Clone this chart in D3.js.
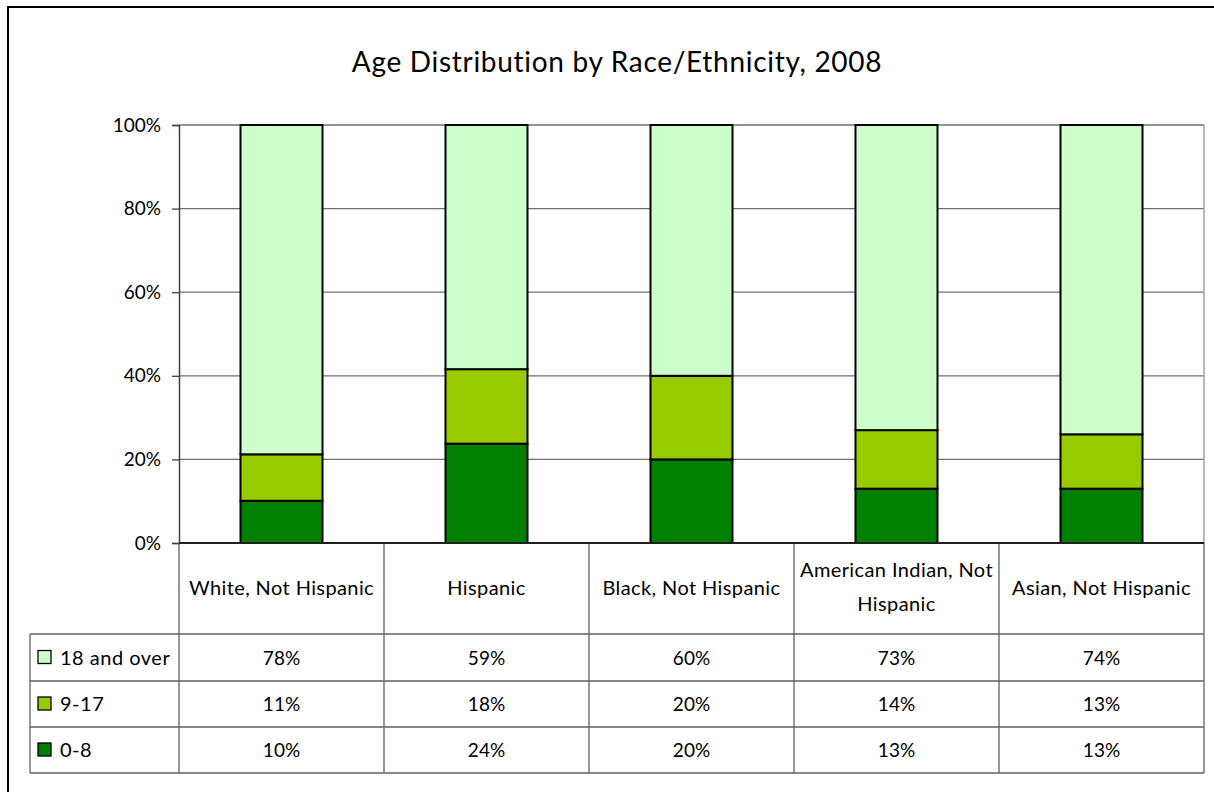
<!DOCTYPE html>
<html><head><meta charset="utf-8">
<script src="https://cdn.jsdelivr.net/npm/d3@7"></script>
<style>body{margin:0;background:#fff;} svg{display:block;} text{font-family:Lato,"Open Sans",sans-serif;fill:#000;}</style>
</head><body>
<svg id="c" width="1214" height="792"></svg>
<script>
const categories = ["White, Not Hispanic","Hispanic","Black, Not Hispanic","American Indian, Not Hispanic","Asian, Not Hispanic"];
const seriesNames = ["0-8","9-17","18 and over"];
const age0to8 = [10,24,20,13,13];
const age9to17 = [11,18,20,14,13];
const age18plus = [78,59,60,73,74];
const yTicks = [0,0.2,0.4,0.6,0.8,1.0];
const colors = ["#008000","#99CC00","#CCFFCC"];
const title = "Age Distribution by Race/Ethnicity, 2008";

const svg = d3.select("#c");
svg.append("rect").attr("x",8).attr("y",7).attr("width",1400).attr("height",1000)
  .attr("fill","#fff").attr("stroke","#000").attr("stroke-width",2);

svg.append("text").attr("x",617).attr("y",72).attr("text-anchor","middle")
  .attr("font-size",28).attr("letter-spacing",0.7).text(title);

const L=179,R=1204,T=125,B=543;
const rows = categories.map((c,i)=>({cat:c,"0-8":age0to8[i],"9-17":age9to17[i],"18 and over":age18plus[i]}));
const stack = d3.stack().keys(seriesNames).offset(d3.stackOffsetExpand)(rows);
const x = d3.scaleBand().domain(categories).range([L,R]).paddingInner(0.6).paddingOuter(0.3);
const xc = d3.scaleBand().domain(categories).range([L,R]).padding(0);
const y = d3.scaleLinear().domain([0,1]).range([B,T]);

// gridlines
svg.append("g").selectAll("line").data(yTicks.filter(d=>d>0)).join("line")
  .attr("x1",L).attr("x2",R).attr("y1",d=>y(d)).attr("y2",d=>y(d))
  .attr("stroke","#707070").attr("stroke-width",1.3);
svg.append("line").attr("x1",R).attr("x2",R).attr("y1",T).attr("y2",B).attr("stroke","#a0a0a0").attr("stroke-width",1.5);

// y axis
const yAxis = d3.axisLeft(y).tickValues(yTicks).tickFormat(d3.format(".0%")).tickSize(7).tickPadding(11);
const ga = svg.append("g").attr("transform",`translate(${L},0)`).call(yAxis);
ga.select(".domain").attr("stroke","#404040").attr("stroke-width",1.5);
ga.selectAll(".tick line").attr("stroke","#404040").attr("stroke-width",1.3);
ga.selectAll(".tick text").attr("font-size",19).attr("font-family","Lato,sans-serif").attr("fill","#000");

// bars
svg.append("g").selectAll("g").data(stack).join("g").attr("fill",(d,i)=>colors[i])
  .selectAll("rect").data(d=>d).join("rect")
  .attr("x",d=>x(d.data.cat)).attr("width",x.bandwidth())
  .attr("y",d=>y(d[1])).attr("height",d=>y(d[0])-y(d[1]))
  .attr("stroke","#000").attr("stroke-width",2);

// data table
const rowY = [634,681,727,773];
const TL = 30;
const tg = svg.append("g").attr("stroke","#606060").attr("stroke-width",1.3);
xc.domain().forEach(c=>{
  tg.append("line").attr("x1",xc(c)).attr("x2",xc(c)).attr("y1",B).attr("y2",rowY[3]);
});
tg.append("line").attr("x1",R).attr("x2",R).attr("y1",B).attr("y2",rowY[3]);
tg.append("line").attr("x1",TL).attr("x2",TL).attr("y1",rowY[0]).attr("y2",rowY[3]);
rowY.forEach(yy=>tg.append("line").attr("x1",TL).attr("x2",R).attr("y1",yy).attr("y2",yy));
svg.append("line").attr("x1",L).attr("x2",R).attr("y1",B).attr("y2",B).attr("stroke","#202020").attr("stroke-width",1.8);

// category labels
categories.forEach(c=>{
  const cx = xc(c)+xc.bandwidth()/2;
  const t = svg.append("text").attr("text-anchor","middle").attr("font-size",20).attr("letter-spacing",0.4);
  if(c.startsWith("American")){
    t.append("tspan").attr("x",cx).attr("y",577).text("American Indian, Not");
    t.append("tspan").attr("x",cx).attr("y",611).text("Hispanic");
  } else {
    t.attr("x",cx).attr("y",595).text(c);
  }
});

// table rows: top to bottom: 18 and over, 9-17, 0-8
const tableSeries = [
  {name:"18 and over",vals:age18plus,color:colors[2]},
  {name:"9-17",vals:age9to17,color:colors[1]},
  {name:"0-8",vals:age0to8,color:colors[0]}
];
tableSeries.forEach((s,ri)=>{
  const cy = (rowY[ri]+rowY[ri+1])/2;
  svg.append("rect").attr("x",38).attr("y",cy-7).attr("width",13).attr("height",13)
    .attr("fill",s.color).attr("stroke","#000").attr("stroke-width",1.3);
  svg.append("text").attr("x",60).attr("y",cy+7).attr("font-size",20).attr("letter-spacing",0.5).text(s.name);
  s.vals.forEach((v,ci)=>{
    svg.append("text").attr("x",xc(categories[ci])+xc.bandwidth()/2).attr("y",cy+7)
      .attr("text-anchor","middle").attr("font-size",19).text(v+"%");
  });
});
</script>
</body></html>
